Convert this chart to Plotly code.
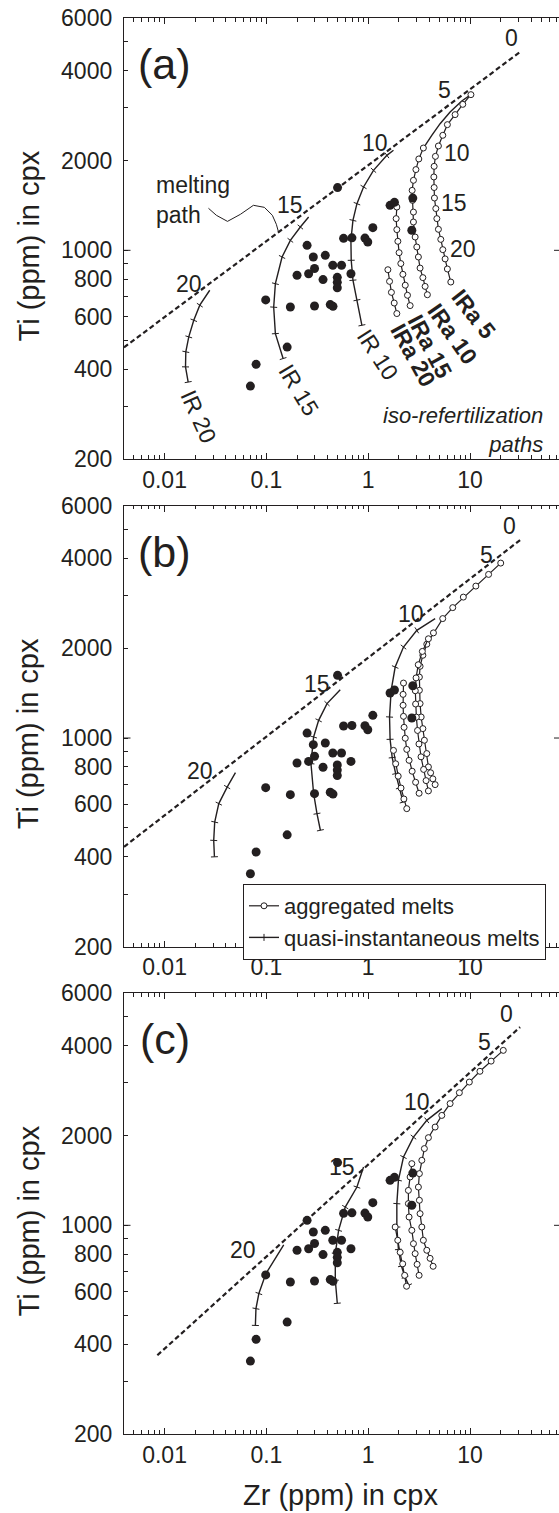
import numpy as np
import plotly.graph_objects as go

INK = "#231f20"
FONT = "Liberation Sans, Arial, sans-serif"
W, H = 559, 1513

# ---------------- observed clinopyroxene (same samples in every panel)
obs_zr = [0.5, 1.64, 1.81, 2.74, 2.68, 1.11, 0.573, 0.692, 0.929, 0.99, 0.251, 0.289,
          0.379, 0.297, 0.449, 0.547, 0.2, 0.26, 0.36, 0.497, 0.497, 0.497, 0.677,
          0.0985, 0.172, 0.297, 0.424, 0.451, 0.16, 0.0793, 0.0697]
obs_ti = [1622, 1415, 1448, 1496, 1167, 1191, 1097, 1101, 1099, 1066, 1039, 950,
          962, 869, 891, 891, 825, 835, 798, 812, 781, 749, 835,
          682, 646, 651, 658, 649, 474, 415, 351]

melt_lab = ["0", "5", "10", "15", "20"]

# ---------------- panel (a)
melt_a_zr = [0.004, 31.6]
melt_a_ti = [473, 4640]
melt_a_lab_zr = [25.8, 5.56, 1.17, 0.172, 0.0173]
melt_a_lab_ti = [5160, 3434, 2281, 1415, 773]

ir10_a_zr = [1.77, 1.525, 1.127, 0.9, 0.775, 0.708, 0.676, 0.681, 0.708, 0.775, 0.867]
ir10_a_ti = [2163, 2080, 1853, 1630, 1433, 1260, 1080, 926, 794, 681, 561]
ir15_a_zr = [0.26, 0.2156, 0.172, 0.1426, 0.1226, 0.118, 0.1226, 0.146]
ir15_a_ti = [1293, 1197, 1080, 950, 773, 645, 526, 434]
ir20_a_zr = [0.0278, 0.0222, 0.01937, 0.0173, 0.01618, 0.01607, 0.01707]
ir20_a_ti = [735, 655, 583, 513, 457, 407, 362]

ira5_a_zr = [10.2, 8.48, 7.13, 5.99, 5.4, 4.89, 4.57, 4.44, 4.41, 4.44, 4.47, 4.61,
             4.72, 4.89, 5.16, 5.4, 5.69, 5.99, 6.47]
ira5_a_ti = [3322, 3083, 2848, 2636, 2428, 2236, 2064, 1911, 1761, 1623, 1497, 1380,
             1277, 1176, 1088, 1005, 936, 866, 783]
ira10_a_line_zr = [10.2, 8.29, 6.37, 5.08, 4.21, 3.62, 3.48]
ira10_a_line_ti = [3322, 3164, 2905, 2655, 2427, 2248, 2201]
ira10_a_zr = [3.48, 3.14, 2.94, 2.78, 2.70, 2.72, 2.78, 2.78, 2.89, 3.0, 3.11, 3.23,
              3.44, 3.62, 3.81]
ira10_a_ti = [2201, 2023, 1864, 1716, 1588, 1470, 1343, 1244, 1108, 1026, 950, 872,
              810, 757, 710]
ira15_a_zr = [1.91, 1.88, 1.91, 1.955, 2.01, 2.09, 2.19, 2.31, 2.43, 2.58]
ira15_a_ti = [1396, 1277, 1173, 1072, 982, 903, 831, 764, 707, 653]
ira20_a_zr = [1.56, 1.62, 1.69, 1.80, 1.91]
ira20_a_ti = [861, 787, 723, 666, 614]
ira5_steps = ["10", "15", "20"]
ira5_steps_zr = [7.46, 6.97, 8.54]
ira5_steps_ti = [2114, 1437, 1008]

pointer_zr = [0.027, 0.0323, 0.0415, 0.0556, 0.0746, 0.0955, 0.1145, 0.1253, 0.131]
pointer_ti = [1383, 1310, 1250, 1320, 1415, 1393, 1310, 1222, 1158]

# ---------------- panel (b)
melt_b_zr = [0.004, 31.0]
melt_b_ti = [432, 4604]
melt_b_lab_zr = [24.3, 14.6, 2.62, 0.314, 0.02255]
melt_b_lab_ti = [5118, 4092, 2610, 1513, 775]

ir10_b_zr = [4.54, 3.0, 2.22, 1.84, 1.68, 1.62, 1.64, 1.72, 1.86, 2.02, 2.2]
ir10_b_ti = [2512, 2295, 2017, 1729, 1445, 1176, 990, 860, 760, 680, 610]
ir15_b_zr = [0.531, 0.394, 0.326, 0.291, 0.274, 0.291, 0.314, 0.339]
ir15_b_ti = [1452, 1304, 1146, 1008, 821, 652, 558, 491]
ir20_b_zr = [0.0497, 0.0412, 0.0341, 0.0311, 0.0304, 0.0309]
ir20_b_ti = [766, 685, 603, 523, 454, 400]
agg5_b_zr = [20.0, 15.2, 11.4, 8.59, 6.76, 5.39, 4.37, 3.76, 3.44, 3.23, 3.18, 3.18,
             3.23, 3.31, 3.44, 3.56, 3.76, 3.9, 4.1, 4.31, 4.54]
agg5_b_ti = [3854, 3532, 3228, 2965, 2734, 2512, 2250, 2062, 1893, 1739, 1600, 1445,
             1304, 1176, 1075, 983, 887, 800, 765, 730, 698]
agg10_b_zr = [3.9, 3.4, 3.1, 2.95, 2.9, 2.92, 2.97, 3.05, 3.15, 3.3, 3.5, 3.7, 3.9]
agg10_b_ti = [2150, 1950, 1760, 1590, 1440, 1300, 1175, 1060, 955, 865, 785, 720, 665]
agg15_b_zr = [2.22, 2.2, 2.2, 2.22, 2.25, 2.31, 2.39, 2.52, 2.70, 2.92, 3.16]
agg15_b_ti = [1528, 1400, 1287, 1182, 1086, 998, 916, 842, 774, 711, 653]
agg20_b_zr = [1.77, 1.86, 1.97, 2.1, 2.24, 2.39]
agg20_b_ti = [909, 820, 745, 680, 625, 580]

# ---------------- panel (c)
melt_c_zr = [0.0085, 31.0]
melt_c_ti = [367, 4612]
melt_c_lab_zr = [22.9, 14.0, 3.0, 0.552, 0.0595]
melt_c_lab_ti = [5117, 4111, 2588, 1567, 825]

ir10_c_zr = [5.28, 3.76, 2.78, 2.22, 1.98, 1.91, 1.91, 1.98, 2.12, 2.3, 2.5]
ir10_c_ti = [2460, 2247, 1975, 1693, 1416, 1182, 987, 830, 730, 670, 630]
ir15_c_zr = [0.9, 0.775, 0.595, 0.512, 0.475, 0.475, 0.497]
ir15_c_ti = [1567, 1343, 1151, 962, 804, 655, 548]
ir20_c_zr = [0.148, 0.099, 0.0844, 0.079, 0.078]
ir20_c_ti = [860, 689, 591, 526, 462]
agg5_c_zr = [21.2, 16.1, 12.5, 9.84, 7.85, 6.37, 5.28, 4.54, 3.9, 3.56, 3.36, 3.18,
             3.11, 3.18, 3.23, 3.36, 3.48, 3.76, 4.05, 4.34]
agg5_c_ti = [3855, 3548, 3280, 3019, 2781, 2557, 2334, 2134, 1966, 1807, 1651, 1490,
             1343, 1213, 1094, 987, 891, 825, 775, 729]
agg10_c_zr = [2.68, 2.58, 2.48, 2.48, 2.52, 2.68, 2.78, 2.89, 3.02, 3.16]
agg10_c_ti = [1609, 1452, 1309, 1182, 1066, 962, 868, 804, 740, 680]
agg15_c_zr = [1.84, 1.95, 2.06, 2.18, 2.28, 2.38]
agg15_c_ti = [987, 891, 812, 743, 680, 625]

# ---------------- axes
x_ticks = [0.01, 0.1, 1, 10]
x_ticktext = ["0.01", "0.1", "1", "10"]
x_minor = [m * 10.0 ** e for e in range(-3, 2) for m in range(2, 10)]
y_ticks = [200, 400, 600, 800, 1000, 2000, 4000, 6000]
y_ticktext = [str(v) for v in y_ticks]
y_minor = [300, 500, 700, 900, 3000, 5000]
x_range = [np.log10(0.004), np.log10(74.7)]
y_range = [np.log10(200), np.log10(6000)]

x_dom = [124 / W, 1.0]
panel_px = [(18, 459), (505.7, 946.7), (993, 1434)]
y_doms = [[1 - b / H, 1 - t / H] for t, b in panel_px]

fig = go.Figure()
annotations = []
shapes = []


def axes_ids(i):
    s = "" if i == 0 else str(i + 1)
    return "x" + s, "y" + s


def line_trace(i, zr, ti, dash=None, width=1.4):
    xa, ya = axes_ids(i)
    fig.add_trace(go.Scatter(x=zr, y=ti, mode="lines", xaxis=xa, yaxis=ya,
                             line=dict(color=INK, width=width, dash=dash),
                             showlegend=False, hoverinfo="skip"))


def ir_trace(i, zr, ti, legend=False):
    xa, ya = axes_ids(i)
    fig.add_trace(go.Scatter(
        x=zr, y=ti, mode="lines+markers", xaxis=xa, yaxis=ya,
        line=dict(color=INK, width=1.4),
        marker=dict(symbol="line-ew", size=5, angleref="previous",
                    line=dict(color=INK, width=1)),
        name="quasi-instantaneous melts", legendrank=2,
        showlegend=legend, hoverinfo="skip"))


def agg_trace(i, zr, ti, legend=False):
    xa, ya = axes_ids(i)
    fig.add_trace(go.Scatter(
        x=zr, y=ti, mode="lines+markers", xaxis=xa, yaxis=ya,
        line=dict(color=INK, width=1.2),
        marker=dict(symbol="circle", size=6, color="white",
                    line=dict(color=INK, width=1)),
        name="aggregated melts", legendrank=1,
        showlegend=legend, hoverinfo="skip"))


def obs_trace(i):
    xa, ya = axes_ids(i)
    fig.add_trace(go.Scatter(x=obs_zr, y=obs_ti, mode="markers", xaxis=xa, yaxis=ya,
                             marker=dict(symbol="circle", size=9, color=INK),
                             showlegend=False, hoverinfo="skip"))


def text(i, zr, ti, s, size=23, angle=0, xanchor="center", align="center",
         bold=False, italic=False):
    xa, ya = axes_ids(i)
    if bold:
        s = "<b>" + s + "</b>"
    if italic:
        s = "<i>" + s.replace("<br>", "</i><br><i>") + "</i>"
    annotations.append(dict(x=np.log10(zr), y=np.log10(ti), xref=xa, yref=ya, text=s,
                            showarrow=False, textangle=angle, xanchor=xanchor,
                            align=align, yanchor="middle",
                            font=dict(family=FONT, size=size, color=INK)))


# panel (a)
line_trace(0, melt_a_zr, melt_a_ti, dash="5px,3px", width=2.2)
line_trace(0, pointer_zr, pointer_ti, width=1)
ir_trace(0, ir10_a_zr, ir10_a_ti)
ir_trace(0, ir15_a_zr, ir15_a_ti)
ir_trace(0, ir20_a_zr, ir20_a_ti)
line_trace(0, ira10_a_line_zr, ira10_a_line_ti)
agg_trace(0, ira10_a_zr, ira10_a_ti)
agg_trace(0, ira5_a_zr, ira5_a_ti)
agg_trace(0, ira15_a_zr, ira15_a_ti)
agg_trace(0, ira20_a_zr, ira20_a_ti)
obs_trace(0)
for s, zx, ty in zip(melt_lab, melt_a_lab_zr, melt_a_lab_ti):
    text(0, zx, ty, s)
for s, zx, ty in zip(ira5_steps, ira5_steps_zr, ira5_steps_ti):
    text(0, zx, ty, s)
text(0, 0.0217, 277, "IR 20", angle=66)
text(0, 0.207, 340, "IR 15", angle=59)
text(0, 1.22, 448, "IR 10", angle=57)
text(0, 10.8, 611, "IRa 5", angle=52, bold=True)
text(0, 6.76, 526, "IRa 10", angle=55, bold=True)
text(0, 4.0, 477, "IRa 15", angle=62, bold=True)
text(0, 2.74, 445, "IRa 20", angle=61, bold=True)
text(0, 0.0078, 1471, "melting<br>path", xanchor="left", align="left", size=23)
text(0, 54.4, 251, "iso-refertilization<br>paths", xanchor="right", align="right",
     italic=True, size=22)

# panel (b)
line_trace(1, melt_b_zr, melt_b_ti, dash="5px,3px", width=2.2)
ir_trace(1, ir10_b_zr, ir10_b_ti, legend=True)
ir_trace(1, ir15_b_zr, ir15_b_ti)
ir_trace(1, ir20_b_zr, ir20_b_ti)
agg_trace(1, agg5_b_zr, agg5_b_ti, legend=True)
agg_trace(1, agg10_b_zr, agg10_b_ti)
agg_trace(1, agg15_b_zr, agg15_b_ti)
agg_trace(1, agg20_b_zr, agg20_b_ti)
obs_trace(1)
for s, zx, ty in zip(melt_lab, melt_b_lab_zr, melt_b_lab_ti):
    text(1, zx, ty, s)

# panel (c)
line_trace(2, melt_c_zr, melt_c_ti, dash="5px,3px", width=2.2)
ir_trace(2, ir10_c_zr, ir10_c_ti)
ir_trace(2, ir15_c_zr, ir15_c_ti)
ir_trace(2, ir20_c_zr, ir20_c_ti)
agg_trace(2, agg5_c_zr, agg5_c_ti)
agg_trace(2, agg10_c_zr, agg10_c_ti)
agg_trace(2, agg15_c_zr, agg15_c_ti)
obs_trace(2)
for s, zx, ty in zip(melt_lab, melt_c_lab_zr, melt_c_lab_ti):
    text(2, zx, ty, s)

# panel tags, axis titles and the 1000 tick marks
y1000 = (np.log10(1000) - y_range[0]) / (y_range[1] - y_range[0])
for i, tag in enumerate(["(a)", "(b)", "(c)"]):
    xa, ya = axes_ids(i)
    t, b = panel_px[i]
    annotations.append(dict(x=0.094, y=1 - 46 / (b - t), xref=xa + " domain",
                            yref=ya + " domain", text=tag, showarrow=False,
                            xanchor="center", yanchor="middle",
                            font=dict(family=FONT, size=43, color=INK)))
    annotations.append(dict(x=28 / W, y=1 - ((t + b) / 2 + 8) / H, xref="paper",
                            yref="paper", text="Ti (ppm) in cpx", textangle=-90,
                            xanchor="center", yanchor="middle",
                            showarrow=False, font=dict(family=FONT, size=29, color=INK)))
    shapes.append(dict(type="line", xref=xa + " domain", yref=ya + " domain",
                       x0=0, x1=6.5 / 435, y0=y1000, y1=y1000,
                       line=dict(color=INK, width=1)))
    shapes.append(dict(type="line", xref=xa + " domain", yref=ya + " domain",
                       x0=1 - 5 / 435, x1=1, y0=y1000, y1=y1000,
                       line=dict(color=INK, width=1)))
annotations.append(dict(x=340 / W, y=1 - 1495 / H, xref="paper", yref="paper",
                        text="Zr (ppm) in cpx", showarrow=False,
                        xanchor="center", yanchor="middle",
                        font=dict(family=FONT, size=29, color=INK)))

layout = dict(
    template="none",
    width=W, height=H, margin=dict(l=0, r=0, t=0, b=0, autoexpand=False),
    paper_bgcolor="white", plot_bgcolor="white",
    font=dict(family=FONT, color=INK),
    annotations=annotations, shapes=shapes,
    legend=dict(x=243 / W, y=1 - 884 / H, xanchor="left", yanchor="top",
                bgcolor="white", bordercolor=INK, borderwidth=1,
                font=dict(family=FONT, size=22, color=INK),
                itemwidth=30, tracegroupgap=0, traceorder="normal"),
)
for i in range(3):
    s = "" if i == 0 else str(i + 1)
    layout["xaxis" + s] = dict(
        type="log", range=x_range, domain=x_dom, anchor="y" + s, automargin=False,
        showline=True, linecolor=INK, linewidth=1.3, mirror="ticks",
        ticks="inside", ticklen=6, tickwidth=1, tickcolor=INK,
        tickvals=x_ticks, ticktext=x_ticktext, ticklabelstandoff=0,
        tickfont=dict(family=FONT, size=23, color=INK),
        minor=dict(ticks="inside", ticklen=3.5, tickwidth=1, tickcolor=INK,
                   tickvals=x_minor, showgrid=False),
        showgrid=False, zeroline=False)
    layout["yaxis" + s] = dict(
        type="log", range=y_range, domain=y_doms[i], anchor="x" + s, automargin=False,
        showline=True, linecolor=INK, linewidth=1.3,
        ticks="inside", ticklen=4, tickwidth=1, tickcolor=INK,
        tickvals=y_ticks, ticktext=y_ticktext, ticklabelstandoff=6,
        tickfont=dict(family=FONT, size=23, color=INK),
        minor=dict(ticks="inside", ticklen=4, tickwidth=1, tickcolor=INK,
                   tickvals=y_minor, showgrid=False),
        showgrid=False, zeroline=False)
fig.update_layout(**layout)
fig.write_html("out.html")
